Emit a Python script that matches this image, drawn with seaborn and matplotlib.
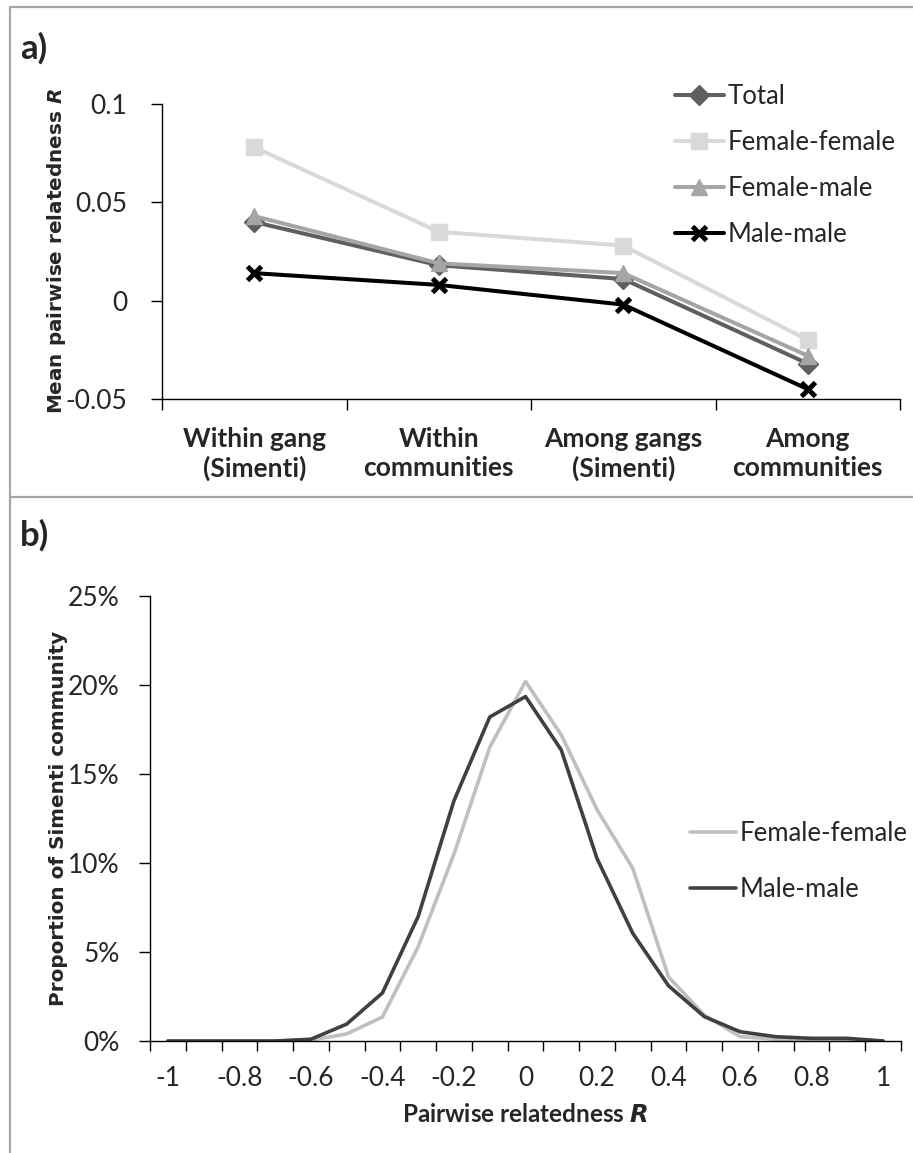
import matplotlib
matplotlib.use("Agg")
import numpy as np
import pandas as pd
import matplotlib.pyplot as plt
import seaborn as sns
from matplotlib.lines import Line2D
from matplotlib.ticker import FixedLocator, FixedFormatter, NullFormatter, PercentFormatter

# ---- panel a: mean pairwise relatedness by comparison level ----
categories = ["Within gang\n(Simenti)", "Within\ncommunities",
              "Among gangs\n(Simenti)", "Among\ncommunities"]
r_total = [0.040, 0.018, 0.011, -0.032]
r_female_female = [0.078, 0.035, 0.028, -0.020]
r_female_male = [0.043, 0.019, 0.014, -0.028]
r_male_male = [0.014, 0.008, -0.002, -0.045]
y_ticks_a = [-0.05, 0, 0.05, 0.1]
y_ticklabels_a = ["-0.05", "0", "0.05", "0.1"]

# ---- panel b: distribution of pairwise relatedness in Simenti ----
r_bins = [-1.0, -0.9, -0.8, -0.7, -0.6, -0.5, -0.4, -0.3, -0.2, -0.1, 0.0,
          0.1, 0.2, 0.3, 0.4, 0.5, 0.6, 0.7, 0.8, 0.9, 1.0]
prop_female_female = [0, 0, 0, 0, 0.0005, 0.004, 0.0135, 0.053, 0.105, 0.165, 0.202,
                      0.172, 0.130, 0.097, 0.036, 0.0145, 0.0025, 0.001, 0.001, 0.0008, 0]
prop_male_male = [0, 0, 0, 0, 0.001, 0.0095, 0.027, 0.070, 0.135, 0.182, 0.1935,
                  0.1635, 0.1025, 0.0605, 0.031, 0.0137, 0.0052, 0.0024, 0.0015, 0.0015, 0]
x_labels_b = ["-1", "-0.8", "-0.6", "-0.4", "-0.2", "0", "0.2", "0.4", "0.6", "0.8", "1"]
x_label_pos_b = [-1.0, -0.8, -0.6, -0.4, -0.2, 0.0, 0.2, 0.4, 0.6, 0.8, 1.0]
y_ticks_b = [0, 0.05, 0.10, 0.15, 0.20, 0.25]

sns.set_theme(style="white")
plt.rcParams["font.family"] = ["Lato", "DejaVu Sans"]
plt.rcParams["mathtext.fontset"] = "custom"
try:
    plt.rcParams["mathtext.bfit"] = "DejaVu Sans:italic:bold"
except KeyError:
    pass

W, H = 913, 1153
fig = plt.figure(figsize=(W / 100, H / 100), dpi=100)
fig.patch.set_facecolor("white")

def fx(px):
    return px / W

def fy(px):
    return 1 - px / H

TICK_FS = 19
LEG_FS = 18.5
AXIS_LW = 1.0

# ================= panel a =================
ax1 = fig.add_axes([fx(162), fy(399), fx(900) - fx(162), fy(104) - fy(399)])
pos = np.arange(len(categories))
series_a = [
    ("Total", r_total, "#5f5f5f", "D", 10.5, 1),
    ("Female-female", r_female_female, "#d9d9d9", "s", 11, 1),
    ("Female-male", r_female_male, "#a5a5a5", "^", 12, 1),
    ("Male-male", r_male_male, "#000000", "x", 10, 3.5),
]
for name, vals, col, mk, ms, mew in series_a:
    sns.lineplot(x=pos, y=vals, ax=ax1, color=col, linewidth=2.9, marker=mk,
                 markersize=ms, markerfacecolor=col, markeredgecolor=col,
                 markeredgewidth=mew, label=name)

ax1.set_xlim(-0.5, 3.5)
ax1.set_ylim(-0.05, 0.1)
ax1.xaxis.set_major_locator(FixedLocator([-0.5, 0.5, 1.5, 2.5, 3.5]))
ax1.xaxis.set_major_formatter(NullFormatter())
ax1.xaxis.set_minor_locator(FixedLocator(pos))
ax1.xaxis.set_minor_formatter(FixedFormatter(categories))
ax1.tick_params(axis="x", which="major", direction="out", length=8, width=AXIS_LW,
                color="black", bottom=True)
ax1.tick_params(axis="x", which="minor", length=0, pad=20, labelsize=TICK_FS,
                bottom=True)
for t in ax1.get_xticklabels(minor=True):
    t.set_fontweight("bold")
    t.set_linespacing(1.25)
ax1.yaxis.set_major_locator(FixedLocator(y_ticks_a))
ax1.yaxis.set_major_formatter(FixedFormatter(y_ticklabels_a))
ax1.tick_params(axis="y", direction="out", length=8, width=AXIS_LW, color="black",
                pad=17, labelsize=TICK_FS, left=True)
for side in ["top", "right"]:
    ax1.spines[side].set_visible(False)
for side in ["left", "bottom"]:
    ax1.spines[side].set_color("black")
    ax1.spines[side].set_linewidth(AXIS_LW)
ax1.set_xlabel("")
ax1.set_ylabel(r"Mean pairwise relatedness $\mathbfit{R}$", fontfamily="DejaVu Sans",
               fontweight="bold", fontsize=14.4)
ax1.yaxis.set_label_coords((57 - 162) / (900 - 162), 0.5)
ax1.yaxis.label.set_verticalalignment("center")

h, l = ax1.get_legend_handles_labels()
ax1.legend(h, l, loc="upper left", bbox_to_anchor=(fx(675), fy(84)),
           bbox_transform=fig.transFigure, frameon=False, fontsize=LEG_FS,
           handlelength=1.9, handletextpad=0.15, labelspacing=0.82,
           borderpad=0, borderaxespad=0, numpoints=1)

# ================= panel b =================
ax2 = fig.add_axes([fx(150), fy(1041), fx(901) - fx(150), fy(596) - fy(1041)])
sns.lineplot(x=r_bins, y=prop_female_female, ax=ax2, color="#bfbfbf",
             linewidth=2.6, label="Female-female")
sns.lineplot(x=r_bins, y=prop_male_male, ax=ax2, color="#404040",
             linewidth=2.6, label="Male-male")

ax2.set_xlim(-1.05, 1.05)
ax2.set_ylim(0, 0.25)
ax2.xaxis.set_major_locator(FixedLocator(np.arange(-1.05, 1.06, 0.1)))
ax2.xaxis.set_major_formatter(NullFormatter())
ax2.xaxis.set_minor_locator(FixedLocator(x_label_pos_b))
ax2.xaxis.set_minor_formatter(FixedFormatter(x_labels_b))
ax2.tick_params(axis="x", which="major", direction="out", length=7, width=AXIS_LW,
                color="black", bottom=True)
ax2.tick_params(axis="x", which="minor", length=0, pad=18, labelsize=TICK_FS,
                bottom=True)
ax2.yaxis.set_major_locator(FixedLocator(y_ticks_b))
ax2.yaxis.set_major_formatter(PercentFormatter(xmax=1, decimals=0))
ax2.tick_params(axis="y", direction="out", length=8, width=AXIS_LW, color="black",
                pad=14, labelsize=TICK_FS, left=True)
for side in ["top", "right"]:
    ax2.spines[side].set_visible(False)
for side in ["left", "bottom"]:
    ax2.spines[side].set_color("black")
    ax2.spines[side].set_linewidth(AXIS_LW)
ax2.set_xlabel(r"Pairwise relatedness $\mathbfit{R}$", fontweight="bold",
               fontsize=17.5, labelpad=9)
ax2.set_ylabel("Proportion of Simenti community", fontfamily="DejaVu Sans",
               fontweight="bold", fontsize=14.4)
ax2.yaxis.set_label_coords((59 - 150) / (901 - 150), 0.5)
ax2.yaxis.label.set_verticalalignment("center")

h, l = ax2.get_legend_handles_labels()
ax2.legend(h, l, loc="upper left", bbox_to_anchor=(fx(690), fy(821)),
           bbox_transform=fig.transFigure, frameon=False, fontsize=LEG_FS,
           handlelength=1.8, handletextpad=0.15, labelspacing=1.2,
           borderpad=0, borderaxespad=0)

# ---- panel letters and frame lines ----
fig.text(fx(20), fy(48), "a)", fontsize=25, fontweight="bold", ha="left", va="center")
fig.text(fx(20), fy(535), "b)", fontsize=25, fontweight="bold", ha="left", va="center")

frame_col = "#a6a6a6"
fig.add_artist(Line2D([fx(10), 1], [fy(7), fy(7)], transform=fig.transFigure,
                      color=frame_col, lw=1.6))
fig.add_artist(Line2D([fx(10), fx(10)], [0, fy(7)], transform=fig.transFigure,
                      color=frame_col, lw=1.6))
fig.add_artist(Line2D([fx(10), 1], [fy(497), fy(497)], transform=fig.transFigure,
                      color=frame_col, lw=1.6))

fig.savefig("out.png", dpi=100, facecolor="white")
